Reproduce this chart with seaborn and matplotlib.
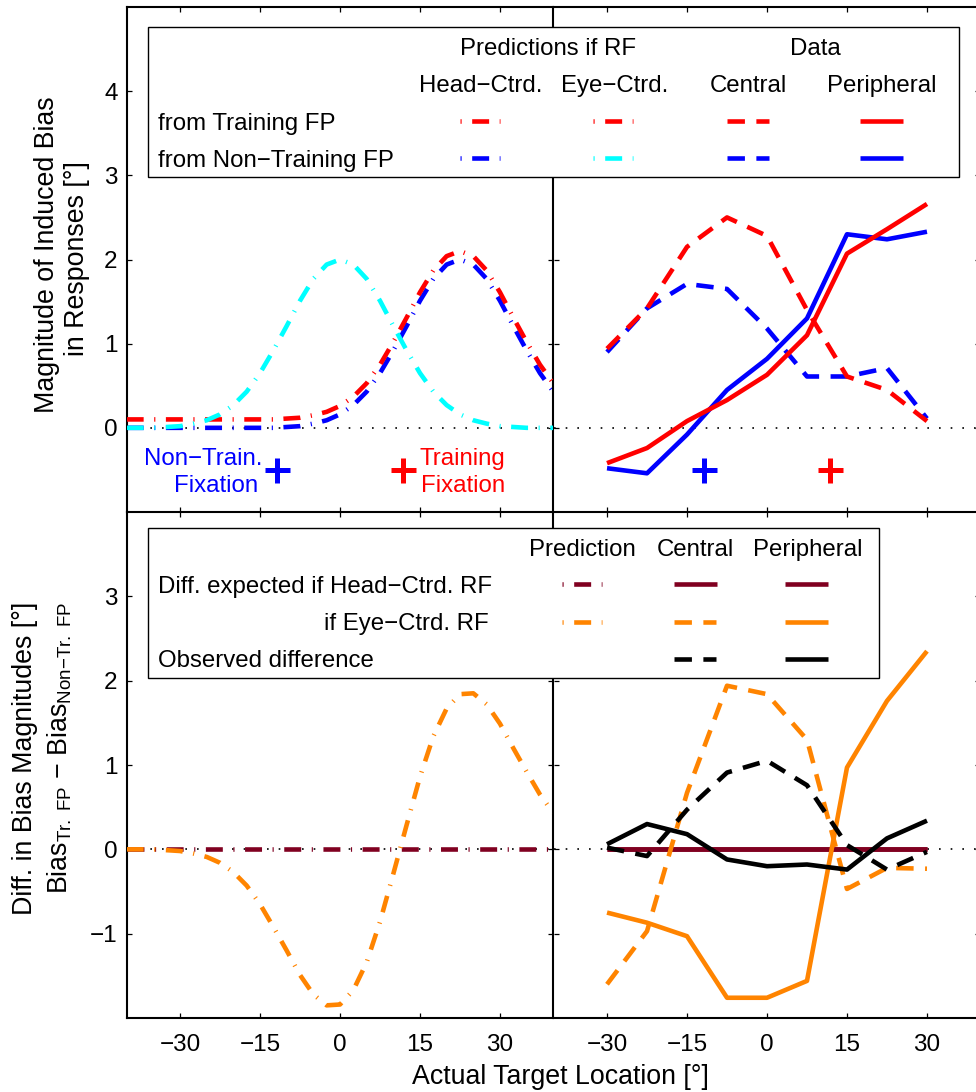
import matplotlib
matplotlib.use("Agg")
import matplotlib.pyplot as plt
import seaborn as sns
from matplotlib.lines import Line2D
from matplotlib.patches import Rectangle

sns.set_theme(style="white", rc={
    "axes.edgecolor": "black", "xtick.color": "black", "ytick.color": "black",
    "text.color": "black", "axes.labelcolor": "black",
    "lines.solid_capstyle": "butt", "lines.dash_capstyle": "butt",
})
plt.rcParams["font.family"] = ["Liberation Sans", "DejaVu Sans"]
plt.rcParams["mathtext.fontset"] = "custom"
plt.rcParams["mathtext.rm"] = "Liberation Sans"
plt.rcParams["mathtext.it"] = "Liberation Sans:italic"
plt.rcParams["mathtext.bf"] = "Liberation Sans:bold"

# ---------------- model predictions (sampled every 2.5 deg) ----------------
model_x = [-40, -37.5, -35, -32.5, -30, -27.5, -25, -22.5, -20, -17.5, -15,
           -12.5, -10, -7.5, -5, -2.5, 0, 2.5, 5, 7.5, 10, 12.5, 15, 17.5,
           20, 22.5, 25, 27.5, 30, 32.5, 35, 37.5, 40]
# bias from the training FP (head- and eye-centred RF predictions coincide)
pred_train = [0.10, 0.10, 0.10, 0.10, 0.10, 0.10, 0.10, 0.10, 0.10, 0.10, 0.10,
              0.10, 0.11, 0.12, 0.15, 0.19, 0.26, 0.37, 0.53, 0.75, 1.02, 1.31,
              1.61, 1.87, 2.04, 2.10, 2.04, 1.87, 1.61, 1.31, 1.02, 0.75, 0.53]
# bias from the non-training FP, head-centred RF
pred_nontrain_head = [0.00, 0.00, 0.00, 0.00, 0.00, 0.00, 0.00, 0.00, 0.00, 0.00,
                      0.00, 0.00, 0.01, 0.02, 0.05, 0.09, 0.16, 0.27, 0.43, 0.65,
                      0.92, 1.21, 1.51, 1.77, 1.94, 2.00, 1.94, 1.77, 1.51, 1.21,
                      0.92, 0.65, 0.43]
# bias from the non-training FP, eye-centred RF
pred_nontrain_eye = [0.00, 0.00, 0.00, 0.01, 0.02, 0.05, 0.09, 0.16, 0.27, 0.43,
                     0.65, 0.92, 1.21, 1.51, 1.77, 1.94, 2.00, 1.94, 1.77, 1.51,
                     1.21, 0.92, 0.65, 0.43, 0.27, 0.16, 0.09, 0.05, 0.02, 0.01,
                     0.00, 0.00, 0.00]
# expected difference (training - non-training)
pred_diff_head_x = [-40, 40]
pred_diff_head = [0.0, 0.0]
pred_diff_eye = [0.00, 0.00, 0.00, -0.01, -0.02, -0.05, -0.09, -0.16, -0.27, -0.43,
                 -0.65, -0.92, -1.20, -1.49, -1.72, -1.85, -1.84, -1.67, -1.34,
                 -0.86, -0.29, 0.29, 0.86, 1.34, 1.67, 1.84, 1.85, 1.72, 1.49,
                 1.20, 0.92, 0.65, 0.43]

# ---------------- measured data ----------------
target_x = [-30, -22.5, -15, -7.5, 0, 7.5, 15, 22.5, 30]
central_train = [0.94, 1.42, 2.15, 2.50, 2.28, 1.40, 0.61, 0.45, 0.08]
central_nontrain = [0.90, 1.42, 1.71, 1.65, 1.18, 0.61, 0.61, 0.71, 0.11]
periph_train = [-0.42, -0.24, 0.08, 0.33, 0.63, 1.10, 2.07, 2.36, 2.66]
periph_nontrain = [-0.48, -0.54, -0.08, 0.45, 0.82, 1.30, 2.30, 2.24, 2.33]

diff_head_central = [0, 0, 0, 0, 0, 0, 0, 0, 0]
diff_head_periph = [0, 0, 0, 0, 0, 0, 0, 0, 0]
diff_eye_central = [-1.60, -0.97, 0.67, 1.94, 1.84, 1.30, -0.47, -0.22, -0.23]
diff_eye_periph = [-0.75, -0.87, -1.03, -1.76, -1.76, -1.56, 0.97, 1.76, 2.35]
diff_obs_central = [0.02, -0.08, 0.47, 0.91, 1.05, 0.76, 0.05, -0.24, -0.03]
diff_obs_periph = [0.06, 0.30, 0.18, -0.12, -0.20, -0.18, -0.24, 0.13, 0.34]

# fixation points (deg)
fix_nontrain = -11.9
fix_train = 11.8

x_ticks = [-30, -15, 0, 15, 30]
top_ticks = [0, 1, 2, 3, 4]
bottom_ticks = [-1, 0, 1, 2, 3]

# ---------------- styles ----------------
RED, BLUE, CYAN = "#FF0000", "#0000FF", "#00FFFF"
ORANGE, MAROON, BLACK = "#FF8400", "#800020", "#000000"
LW = 3.3
DASH = (0, (3.8, 2.5))
DASHDOT = (0, (3.7, 2.3, 0.25, 2.3))
DASHDOT_KEY = (6.0, (3.7, 2.3, 0.25, 2.3))
SOLID = "-"
FS = 17.3
FS_LABEL = 19.3

W, H = 976, 1092
fig = plt.figure(figsize=(W / 100, H / 100), dpi=100)


def fx(x):
    return x / W


def fy(y):
    return 1 - y / H


def rect(x0, y0, x1, y1):
    return [fx(x0), fy(y1), (x1 - x0) / W, (y1 - y0) / H]


ax_tl = fig.add_axes(rect(126.7, 7, 553.3, 512))
ax_tr = fig.add_axes(rect(553.7, 7, 980.3, 512))
ax_bl = fig.add_axes(rect(126.7, 512, 553.3, 1018))
ax_br = fig.add_axes(rect(553.7, 512, 980.3, 1018))


def draw(ax, x, y, color, style, z):
    sns.lineplot(x=x, y=y, ax=ax, color=color, lw=LW, linestyle=style,
                 estimator=None, sort=False, legend=False, zorder=z)


for ax in (ax_tl, ax_tr, ax_bl, ax_br):
    ax.axhline(0, color=BLACK, lw=1.2, linestyle=(0, (1, 6)), zorder=1)

# top left: predictions
draw(ax_tl, model_x, pred_nontrain_head, BLUE, DASHDOT, 2)
draw(ax_tl, model_x, pred_train, RED, DASHDOT, 3)
draw(ax_tl, model_x, pred_nontrain_eye, CYAN, DASHDOT, 4)

# top right: data
draw(ax_tr, target_x, central_nontrain, BLUE, DASH, 2)
draw(ax_tr, target_x, central_train, RED, DASH, 3)
draw(ax_tr, target_x, periph_nontrain, BLUE, SOLID, 4)
draw(ax_tr, target_x, periph_train, RED, SOLID, 5)

# fixation markers
for ax in (ax_tl, ax_tr):
    ax.plot([fix_nontrain], [-0.5], marker="+", ms=18, mew=3.6, color=BLUE,
            linestyle="none", zorder=6)
    ax.plot([fix_train], [-0.5], marker="+", ms=18, mew=3.6, color=RED,
            linestyle="none", zorder=6)

ax_tl.text(-14.6, -0.44, "Non−Train.", color=BLUE, ha="right", va="baseline", fontsize=FS)
ax_tl.text(-15.3, -0.76, "Fixation", color=BLUE, ha="right", va="baseline", fontsize=FS)
ax_tl.text(15.0, -0.44, "Training", color=RED, ha="left", va="baseline", fontsize=FS)
ax_tl.text(15.2, -0.76, "Fixation", color=RED, ha="left", va="baseline", fontsize=FS)

# bottom left: predicted differences
draw(ax_bl, pred_diff_head_x, pred_diff_head, MAROON, DASHDOT, 2)
draw(ax_bl, model_x, pred_diff_eye, ORANGE, DASHDOT, 3)

# bottom right: differences from data
draw(ax_br, target_x, diff_head_central, MAROON, SOLID, 2)
draw(ax_br, target_x, diff_head_periph, MAROON, SOLID, 2)
draw(ax_br, target_x, diff_eye_central, ORANGE, DASH, 3)
draw(ax_br, target_x, diff_eye_periph, ORANGE, SOLID, 4)
draw(ax_br, target_x, diff_obs_central, BLACK, DASH, 5)
draw(ax_br, target_x, diff_obs_periph, BLACK, SOLID, 6)

# axes styling
for ax, top in ((ax_tl, True), (ax_tr, True), (ax_bl, False), (ax_br, False)):
    ax.set_facecolor("none")
    ax.set_xlim(-40, 40)
    ax.set_xticks(x_ticks)
    if top:
        ax.set_ylim(-1, 5)
        ax.set_yticks(top_ticks)
    else:
        ax.set_ylim(-2, 4)
        ax.set_yticks(bottom_ticks)
    ax.set_xlabel("")
    ax.set_ylabel("")
    for sp in ax.spines.values():
        sp.set_visible(True)
        sp.set_linewidth(1.5)
        sp.set_color(BLACK)
    ax.tick_params(direction="in", length=3.6, width=0.9, top=True, right=True,
                   left=True, bottom=True, labelsize=17.5)
    ax.tick_params(axis="x", pad=11.5, labelbottom=not top)
    ax.tick_params(axis="y", pad=6.5)
    ax.grid(False)
ax_tr.tick_params(labelleft=False)
ax_br.tick_params(labelleft=False)
# shared borders between panels are drawn only once
for ax in (ax_tr, ax_br):
    ax.spines["left"].set_visible(False)
for ax in (ax_bl, ax_br):
    ax.spines["top"].set_visible(False)

# axis labels
fig.text(fx(47), fy(254.5), "Magnitude of Induced Bias", rotation=90,
         ha="center", va="center", fontsize=FS_LABEL)
fig.text(fx(76.5), fy(259), "in Responses [°]", rotation=90,
         ha="center", va="center", fontsize=FS_LABEL)
fig.text(fx(25), fy(758), "Diff. in Bias Magnitudes [°]", rotation=90,
         ha="center", va="center", fontsize=FS_LABEL)
fig.text(fx(60), fy(748),
         r"Bias$_{\mathregular{Tr.\ FP}}$ − Bias$_{\mathregular{Non{-}Tr.\ FP}}$",
         rotation=90, ha="center", va="center", fontsize=FS_LABEL)
fig.text(fx(560), fy(1084), "Actual Target Location [°]", ha="center",
         va="baseline", fontsize=FS_LABEL)


# ---------------- legend tables ----------------
def frame(x0, y0, x1, y1):
    fig.add_artist(Rectangle((fx(x0), fy(y1)), (x1 - x0) / W, (y1 - y0) / H,
                             transform=fig.transFigure, facecolor="white",
                             edgecolor=BLACK, lw=1.0, zorder=5))


def label(x, y, s, ha="left"):
    fig.text(fx(x), fy(y), s, ha=ha, va="baseline", fontsize=FS, zorder=7)


def key(xc, y, color, style, half):
    fig.add_artist(Line2D([fx(xc - half), fx(xc + half)], [fy(y), fy(y)],
                          transform=fig.transFigure, color=color, lw=LW,
                          linestyle=style, zorder=6))


frame(148, 27, 959, 177)
label(548, 55, "Predictions if RF", "center")
label(815, 55, "Data", "center")
label(481, 92, "Head−Ctrd.", "center")
label(615, 92, "Eye−Ctrd.", "center")
label(748, 92, "Central", "center")
label(882, 92, "Peripheral", "center")
label(158, 130, "from Training FP")
label(158, 167, "from Non−Training FP")
key(480, 121, RED, DASHDOT_KEY, 20.2)
key(613, 121, RED, DASHDOT_KEY, 20.2)
key(748, 121, RED, DASH, 21)
key(881, 121, RED, SOLID, 21.5)
key(480, 158, BLUE, DASHDOT_KEY, 20.2)
key(613, 158, CYAN, DASHDOT_KEY, 20.2)
key(748, 158, BLUE, DASH, 21)
key(881, 158, BLUE, SOLID, 21.5)

frame(148, 528, 879, 678)
label(582, 556, "Prediction", "center")
label(695, 556, "Central", "center")
label(808, 556, "Peripheral", "center")
label(158, 593, "Diff. expected if Head−Ctrd. RF")
label(489, 630, "if Eye−Ctrd. RF", "right")
label(158, 667, "Observed difference")
key(582, 584, MAROON, DASHDOT_KEY, 20.2)
key(695, 584, MAROON, SOLID, 21.5)
key(806, 584, MAROON, SOLID, 21.5)
key(582, 622, ORANGE, DASHDOT_KEY, 20.2)
key(695, 622, ORANGE, DASH, 21)
key(806, 622, ORANGE, SOLID, 21.5)
key(695, 659, BLACK, DASH, 21)
key(806, 659, BLACK, SOLID, 21.5)

fig.savefig("out.png", dpi=100, facecolor="white")
